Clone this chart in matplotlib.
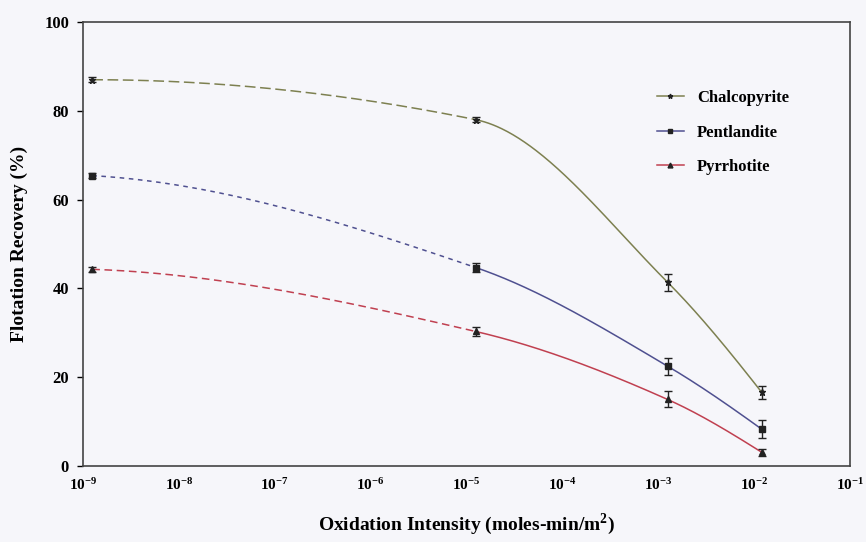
import numpy as np
import matplotlib
matplotlib.use("Agg")
import matplotlib.pyplot as plt

# ---- data ----
x_vals = [1.25e-9, 1.25e-5, 1.25e-3, 1.2e-2]
chalcopyrite = [87.0, 78.0, 41.4, 16.6]
chalcopyrite_err = [0.6, 0.6, 1.9, 1.4]
pentlandite = [65.4, 44.7, 22.5, 8.3]
pentlandite_err = [0.6, 1.0, 1.9, 2.0]
pyrrhotite = [44.3, 30.3, 15.0, 3.1]
pyrrhotite_err = [0.6, 1.0, 1.8, 0.8]
series_names = ["Chalcopyrite", "Pentlandite", "Pyrrhotite"]
x_ticks = [1e-9, 1e-8, 1e-7, 1e-6, 1e-5, 1e-4, 1e-3, 1e-2, 1e-1]
x_ticklabels = [r"$\mathbf{10^{-9}}$", r"$\mathbf{10^{-8}}$", r"$\mathbf{10^{-7}}$",
                r"$\mathbf{10^{-6}}$", r"$\mathbf{10^{-5}}$", r"$\mathbf{10^{-4}}$",
                r"$\mathbf{10^{-3}}$", r"$\mathbf{10^{-2}}$", r"$\mathbf{10^{-1}}$"]
y_ticks = [0, 20, 40, 60, 80, 100]

colors = ["#7d8050", "#4f5090", "#c04050"]
markers = ["*", "s", "^"]
dash_styles = [(0, (7, 3)), (0, (3, 3)), (0, (5, 3))]


def pchip(x, y, xs):
    """Monotone piecewise cubic Hermite curve through the points."""
    x = np.asarray(x, float)
    y = np.asarray(y, float)
    n = len(x)
    h = np.diff(x)
    delta = np.diff(y) / h
    m = np.zeros(n)
    for i in range(1, n - 1):
        if delta[i - 1] * delta[i] <= 0:
            m[i] = 0
        else:
            w1 = 2 * h[i] + h[i - 1]
            w2 = h[i] + 2 * h[i - 1]
            m[i] = (w1 + w2) / (w1 / delta[i - 1] + w2 / delta[i])

    def end(h0, h1, d0, d1):
        d = ((2 * h0 + h1) * d0 - h0 * d1) / (h0 + h1)
        if np.sign(d) != np.sign(d0):
            d = 0.0
        elif np.sign(d0) != np.sign(d1) and abs(d) > abs(3 * d0):
            d = 3 * d0
        return d

    m[0] = end(h[0], h[1], delta[0], delta[1])
    m[-1] = end(h[-1], h[-2], delta[-1], delta[-2])
    out = np.empty_like(xs)
    for k, xv in enumerate(xs):
        i = min(max(np.searchsorted(x, xv) - 1, 0), n - 2)
        t = (xv - x[i]) / h[i]
        h00 = 2 * t ** 3 - 3 * t ** 2 + 1
        h10 = t ** 3 - 2 * t ** 2 + t
        h01 = -2 * t ** 3 + 3 * t ** 2
        h11 = t ** 3 - t ** 2
        out[k] = h00 * y[i] + h10 * h[i] * m[i] + h01 * y[i + 1] + h11 * h[i] * m[i + 1]
    return out


plt.rcParams['font.family'] = ['Liberation Serif', 'DejaVu Serif']
plt.rcParams['mathtext.fontset'] = 'custom'
plt.rcParams['mathtext.rm'] = 'Liberation Serif'
plt.rcParams['mathtext.bf'] = 'Liberation Serif:bold'

fig = plt.figure(figsize=(8.66, 5.42), dpi=100, facecolor="#f6f6fa")
ax = fig.add_axes([0.0958, 0.1402, 0.8857, 0.8192])
ax.set_facecolor("#f6f6fa")

lx = np.log10(x_vals)
all_series = [(chalcopyrite, chalcopyrite_err), (pentlandite, pentlandite_err),
              (pyrrhotite, pyrrhotite_err)]
for (vals, errs), name, col, mk, ds in zip(all_series, series_names, colors, markers, dash_styles):
    xs1 = np.linspace(lx[0], lx[1], 200)
    ax.plot(10 ** xs1, pchip(lx, vals, xs1), color=col, lw=1.1, linestyle=ds)
    xs2 = np.linspace(lx[1], lx[-1], 200)
    ax.plot(10 ** xs2, pchip(lx, vals, xs2), color=col, lw=1.1)
    ax.errorbar(x_vals, vals, yerr=errs, fmt="none", ecolor="#222222",
                elinewidth=1.0, capsize=3, capthick=1.0)
    ax.plot(x_vals, vals, linestyle="none", marker=mk, color="#222222",
            ms=5 if mk == "*" else 4)
    ax.plot([], [], color=col, lw=1.1, marker=mk, ms=3.5, mfc="#222222", mec="#222222",
            label=name)

ax.set_xscale("log")
ax.set_xlim(1e-9, 1e-1)
ax.set_ylim(0, 100)
ax.set_xticks(x_ticks)
ax.set_xticklabels(x_ticklabels)
ax.xaxis.set_minor_locator(matplotlib.ticker.NullLocator())
ax.set_yticks(y_ticks)
ax.set_yticklabels([str(v) for v in y_ticks])
ax.tick_params(axis="x", length=0, pad=8, labelsize=11)
ax.tick_params(axis="y", length=4, width=1, pad=6, labelsize=12)
for lab in ax.get_yticklabels():
    lab.set_fontweight("bold")

for sp in ax.spines.values():
    sp.set_color("#444444")
    sp.set_linewidth(1.2)

ax.set_xlabel(r"Oxidation Intensity (moles-min/m$^\mathbf{2}$)", fontsize=14,
              fontweight="bold", labelpad=13)
ax.set_ylabel("Flotation Recovery (%)", fontsize=14, fontweight="bold", labelpad=12)

leg = ax.legend(loc="upper right", bbox_to_anchor=(0.94, 0.88), frameon=False,
                handlelength=1.6, labelspacing=1.1, prop={"weight": "bold", "size": 12})

fig.savefig("out.png", dpi=100, facecolor=fig.get_facecolor())
